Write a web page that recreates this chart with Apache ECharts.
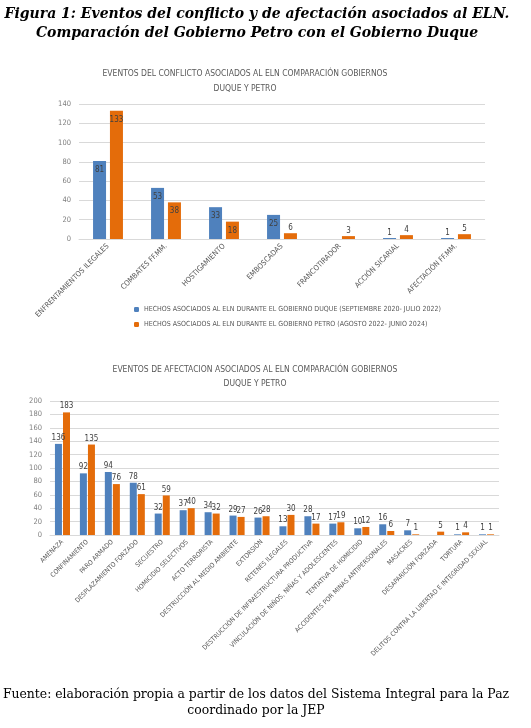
<!DOCTYPE html>
<html>
<head>
<meta charset="utf-8">
<script src="https://cdn.jsdelivr.net/npm/echarts@6/dist/echarts.min.js"></script>
<style>
  html, body { margin: 0; padding: 0; background: #fff; }
  #chart { width: 531px; height: 728px; }
</style>
</head>
<body>
<div id="chart"></div>
<script>
// grafico 1: eventos del conflicto
const categorias1 = ['ENFRENTAMIENTOS ILEGALES', 'COMBATES FF.MM.', 'HOSTIGAMIENTO', 'EMBOSCADAS', 'FRANCOTIRADOR', 'ACCIÓN SICARIAL', 'AFECTACIÓN FF.MM.']
const duque1 = [81, 53, 33, 25, null, 1, 1]
const petro1 = [133, 38, 18, 6, 3, 4, 5]

// grafico 2: eventos de afectacion
const categorias2 = ['AMENAZA', 'CONFINAMIENTO', 'PARO ARMADO', 'DESPLAZAMIENTO FORZADO', 'SECUESTRO',
  'HOMICIDIO SELECTIVOS', 'ACTO TERRORISTA', 'DESTRUCCIÓN AL MEDIO AMBIENTE', 'EXTORSIÓN', 'RETENES ILEGALES',
  'DESTRUCCIÓN DE INFRAESTRUCTURA PRODUCTIVA', 'VINCULACIÓN DE NIÑOS, NIÑAS Y ADOLESCENTES', 'TENTATIVA DE HOMICIDIO',
  'ACCIDENTES POR MINAS ANTIPERSONALES', 'MASACRES', 'DESAPARICIÓN FORZADA', 'TORTURA',
  'DELITOS CONTRA LA LIBERTAD E INTEGRIDAD SEXUAL']
const duque2 = [136, 92, 94, 78, 32, 37, 34, 29, 26, 13, 28, 17, 10, 16, 7, null, 1, 1]
const petro2 = [183, 135, 76, 61, 59, 40, 32, 27, 28, 30, 17, 19, 12, 6, 1, 5, 4, 1]

const ticks1 = [0, 140, 20]
const ticks2 = [0, 200, 20]

const nombreDuque = 'HECHOS ASOCIADOS AL ELN DURANTE EL GOBIERNO DUQUE (SEPTIEMBRE 2020- JULIO 2022)'
const nombrePetro = 'HECHOS ASOCIADOS AL ELN DURANTE EL GOBIERNO PETRO (AGOSTO 2022- JUNIO 2024)'

const AZUL = '#4f81bd'
const NARANJA = '#e46c0a'
const SANS = 'Liberation Sans Narrow, DejaVu Sans Condensed, sans-serif'
const SERIF = 'DejaVu Serif, serif'

// etiquetas dentro de la barra si es alta, encima si es pequena
function datos1(arr) {
  return arr.map(v => {
    if (v == null) return null
    return {
      value: v,
      label: v >= 10 ? { position: 'insideTop', distance: 5 } : { position: 'top', distance: 1 }
    }
  })
}

const labelBase = { show: true, fontSize: 8, color: '#404040', fontFamily: SANS }

const chart = echarts.init(document.getElementById('chart'))
chart.setOption({
  animation: false,
  graphic: [
    {
      type: 'text', x: 257, y: 24,
      style: {
        text: 'Figura 1: Eventos del conflicto y de afectación asociados al ELN.\nComparación del Gobierno Petro con el Gobierno Duque',
        fontFamily: SERIF, fontSize: 14, fontWeight: 'bold', fontStyle: 'italic',
        lineHeight: 19, fill: '#000', align: 'center', verticalAlign: 'middle'
      }
    },
    {
      type: 'text', x: 245, y: 81,
      style: {
        text: 'EVENTOS DEL CONFLICTO ASOCIADOS AL ELN COMPARACIÓN GOBIERNOS\nDUQUE Y PETRO',
        fontFamily: SANS, fontSize: 8.5, lineHeight: 15, fill: '#595959', align: 'center', verticalAlign: 'middle'
      }
    },
    {
      type: 'text', x: 255, y: 377,
      style: {
        text: 'EVENTOS DE AFECTACION ASOCIADOS AL ELN COMPARACIÓN GOBIERNOS\nDUQUE Y PETRO',
        fontFamily: SANS, fontSize: 8.5, lineHeight: 14, fill: '#595959', align: 'center', verticalAlign: 'middle'
      }
    },
    {
      type: 'text', x: 256, y: 703,
      style: {
        text: 'Fuente: elaboración propia a partir de los datos del Sistema Integral para la Paz\ncoordinado por la JEP',
        fontFamily: SERIF, fontSize: 12.4, lineHeight: 16, fill: '#000', align: 'center', verticalAlign: 'middle'
      }
    }
  ],
  legend: {
    orient: 'vertical',
    left: 129,
    top: 301,
    itemWidth: 5,
    itemHeight: 5,
    itemGap: 8,
    textStyle: { fontSize: 7, color: '#595959', fontFamily: SANS },
    data: [nombreDuque, nombrePetro]
  },
  grid: [
    { left: 79, top: 104, width: 406, height: 135 },
    { left: 50, top: 401, width: 449, height: 134 }
  ],
  xAxis: [
    {
      type: 'category', gridIndex: 0, data: categorias1,
      axisTick: { show: false },
      axisLine: { lineStyle: { color: '#d9d9d9' } },
      axisLabel: { rotate: 45, interval: 0, fontSize: 7.5, color: '#595959', fontFamily: SANS, margin: 6 }
    },
    {
      type: 'category', gridIndex: 1, data: categorias2,
      axisTick: { show: false },
      axisLine: { lineStyle: { color: '#d9d9d9' } },
      axisLabel: { rotate: 45, interval: 0, fontSize: 6.6, color: '#595959', fontFamily: SANS, margin: 6 }
    }
  ],
  yAxis: [
    {
      type: 'value', gridIndex: 0, min: ticks1[0], max: ticks1[1], interval: ticks1[2],
      axisLine: { show: false },
      splitLine: { lineStyle: { color: '#d9d9d9' } },
      axisLabel: { fontSize: 7.5, color: '#7f7f7f', fontFamily: SANS }
    },
    {
      type: 'value', gridIndex: 1, min: ticks2[0], max: ticks2[1], interval: ticks2[2],
      axisLine: { show: false },
      splitLine: { lineStyle: { color: '#d9d9d9' } },
      axisLabel: { fontSize: 7.5, color: '#7f7f7f', fontFamily: SANS }
    }
  ],
  series: [
    {
      name: nombreDuque, type: 'bar', xAxisIndex: 0, yAxisIndex: 0,
      data: datos1(duque1), barWidth: 13, barGap: '30%',
      itemStyle: { color: AZUL }, label: labelBase
    },
    {
      name: nombrePetro, type: 'bar', xAxisIndex: 0, yAxisIndex: 0,
      data: datos1(petro1), barWidth: 13, barGap: '30%',
      itemStyle: { color: NARANJA }, label: labelBase
    },
    {
      name: 'duque2', type: 'bar', xAxisIndex: 1, yAxisIndex: 1,
      data: duque2, barWidth: 7, barGap: '15%',
      itemStyle: { color: AZUL },
      label: Object.assign({}, labelBase, { position: 'top', distance: 2 })
    },
    {
      name: 'petro2', type: 'bar', xAxisIndex: 1, yAxisIndex: 1,
      data: petro2, barWidth: 7, barGap: '15%',
      itemStyle: { color: NARANJA },
      label: Object.assign({}, labelBase, { position: 'top', distance: 2 })
    }
  ]
})
</script>
</body>
</html>
